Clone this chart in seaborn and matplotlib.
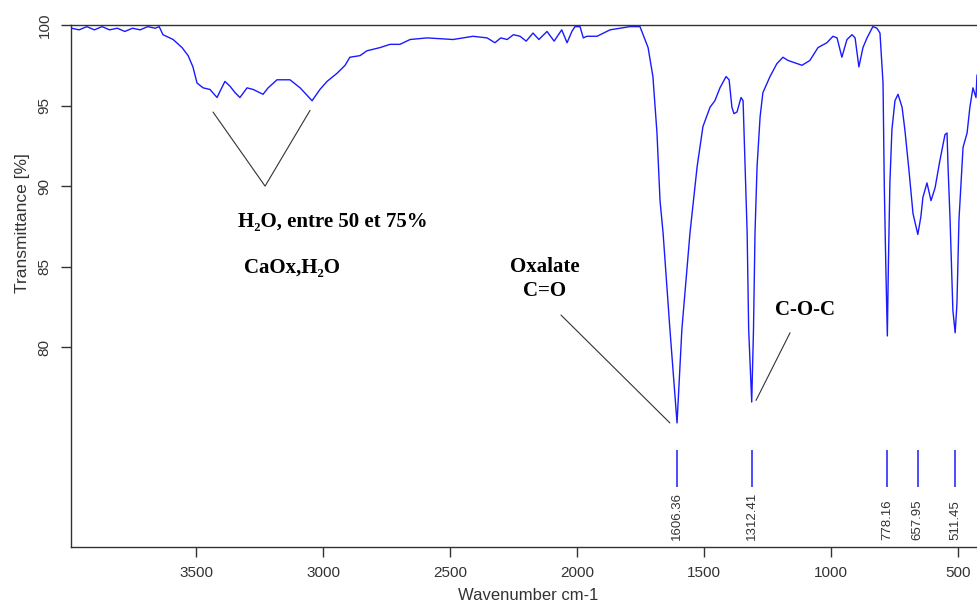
import matplotlib
matplotlib.use("Agg")
import seaborn as sns
import matplotlib.pyplot as plt

# IR spectrum (wavenumber cm-1, transmittance %)
wavenumber = [
    3990, 3960, 3930, 3900, 3870, 3840, 3810, 3780, 3750, 3720, 3690, 3660, 3645,
    3630, 3590, 3555, 3531, 3512, 3496, 3472, 3445, 3417, 3405, 3386, 3366, 3346,
    3327, 3299, 3275, 3236, 3216, 3181, 3130, 3090, 3043, 3012, 2984, 2945, 2913,
    2894, 2854, 2827, 2775, 2736, 2697, 2657, 2590, 2488, 2409, 2354, 2323, 2300,
    2275, 2250, 2224, 2200, 2173, 2150, 2118, 2090, 2060, 2039, 2020, 2008, 1988,
    1975, 1961, 1921, 1870, 1791, 1752, 1720, 1701, 1685, 1673, 1661, 1634, 1606,
    1587, 1555, 1527, 1504, 1476, 1457, 1437, 1413, 1401, 1390, 1382, 1370, 1354,
    1346, 1338, 1330, 1324, 1312, 1305, 1299, 1291, 1279, 1268, 1240, 1213, 1189,
    1169, 1150, 1114, 1083, 1051, 1016, 992, 976, 957, 937, 917, 905, 890, 874,
    858, 835, 819, 807, 795, 790, 784, 778, 774, 768, 760, 748, 736, 720, 709,
    693, 677, 658, 646, 638, 622, 606, 590, 571, 551, 543, 539, 531, 520, 511,
    504, 496, 480, 464, 453, 441, 429, 425,
]
transmittance = [
    99.8, 99.7, 99.9, 99.7, 99.9, 99.7, 99.8, 99.6, 99.8, 99.7, 99.9, 99.8, 99.9,
    99.4, 99.1, 98.6, 98.1, 97.4, 96.4, 96.1, 96.0, 95.5, 95.9, 96.5, 96.2, 95.8,
    95.5, 96.1, 96.0, 95.7, 96.1, 96.6, 96.6, 96.1, 95.3, 96.0, 96.5, 97.0, 97.5,
    98.0, 98.1, 98.4, 98.6, 98.8, 98.8, 99.1, 99.2, 99.1, 99.3, 99.2, 98.9, 99.2,
    99.1, 99.4, 99.3, 99.0, 99.5, 99.1, 99.6, 99.0, 99.7, 98.9, 99.6, 99.9, 99.9,
    99.2, 99.3, 99.3, 99.7, 99.9, 99.9, 98.6, 96.8, 93.3, 89.1, 87.1, 81.1, 75.3,
    81.1, 87.1, 91.2, 93.7, 94.9, 95.3, 96.1, 96.8, 96.6, 94.9, 94.5, 94.6, 95.5,
    95.3, 91.2, 87.1, 81.1, 76.6, 81.1, 87.1, 91.2, 94.3, 95.8, 96.8, 97.6, 98.0,
    97.8, 97.7, 97.5, 97.8, 98.6, 98.9, 99.3, 99.2, 98.0, 99.1, 99.4, 99.2, 97.4, 98.6,
    99.2, 99.9, 99.8, 99.5, 96.4, 90.0, 85.0, 80.7, 85.0, 90.2, 93.5, 95.3, 95.7, 94.9, 93.5,
    91.0, 88.3, 87.0, 88.1, 89.3, 90.2, 89.1, 89.9, 91.6, 93.2, 93.3, 91.2, 87.9, 82.3, 80.9,
    82.7, 87.9, 92.4, 93.3, 94.9, 96.1, 95.5, 96.9,
]

# picked peaks
peak_positions = [1606.36, 1312.41, 778.16, 657.95, 511.45]
peak_labels = ["1606.36", "1312.41", "778.16", "657.95", "511.45"]

sns.set_style("white")
plt.rcParams["font.family"] = ["Liberation Sans", "DejaVu Sans"]

fig = plt.figure(figsize=(9.77, 6.07), dpi=100)
ax = fig.add_axes([0.0727, 0.0988, 0.9273, 0.86])

sns.lineplot(x=wavenumber, y=transmittance, color="#1a1aff", linewidth=1.0,
             estimator=None, ax=ax)

# peak markers and their labels
ax.vlines(peak_positions, 71.3, 73.6, color="#1a1aff", linewidth=1.1)
for pos, lab in zip(peak_positions, peak_labels):
    ax.text(pos, 68.05, lab, rotation=90, ha="center", va="bottom",
            fontsize=9.5, color="#333333")

# annotations
line_kw = dict(color="#333333", linewidth=0.8)
ax.plot([3433, 3228, 3051], [94.6, 90.0, 94.7], **line_kw)
ax.plot([2063, 1634], [82.0, 75.3], **line_kw)
ax.plot([1295, 1161], [76.7, 80.9], **line_kw)

txt_kw = dict(family=["Liberation Serif", "DejaVu Serif"], fontweight="bold",
              fontsize=15, color="black")
ax.text(3335, 87.8, "H₂O, entre 50 et 75%", ha="left", va="center", **txt_kw)
ax.text(3311, 84.9, "CaOx,H₂O", ha="left", va="center", **txt_kw)
ax.text(2126, 85.0, "Oxalate", ha="center", va="center", **txt_kw)
ax.text(2126, 83.5, "C=O", ha="center", va="center", **txt_kw)
ax.text(1102, 82.3, "C-O-C", ha="center", va="center", **txt_kw)

ax.set_xlim(3992, 425)
ax.set_ylim(67.6, 100)
ax.set_xticks([3500, 3000, 2500, 2000, 1500, 1000, 500])
ax.set_yticks([80, 85, 90, 95, 100])
for lab in ax.get_yticklabels():
    lab.set_rotation(90)
    lab.set_va("center")

ax.tick_params(axis="both", direction="out", length=7, width=1, color="#333333",
               labelsize=11, labelcolor="#333333", pad=7)
ax.tick_params(axis="x", bottom=True, pad=7)
ax.tick_params(axis="y", left=True)

for side in ["left", "bottom", "top"]:
    ax.spines[side].set_color("#333333")
    ax.spines[side].set_linewidth(1)
ax.spines["right"].set_visible(False)

ax.set_xlabel("Wavenumber cm-1", fontsize=12, color="#333333")
ax.set_ylabel("Transmittance [%]", fontsize=12.5, color="#333333")
ax.xaxis.set_label_coords(0.505, -0.078)
ax.yaxis.set_label_coords(-0.045, 0.62)

fig.savefig("out.png", dpi=100)
